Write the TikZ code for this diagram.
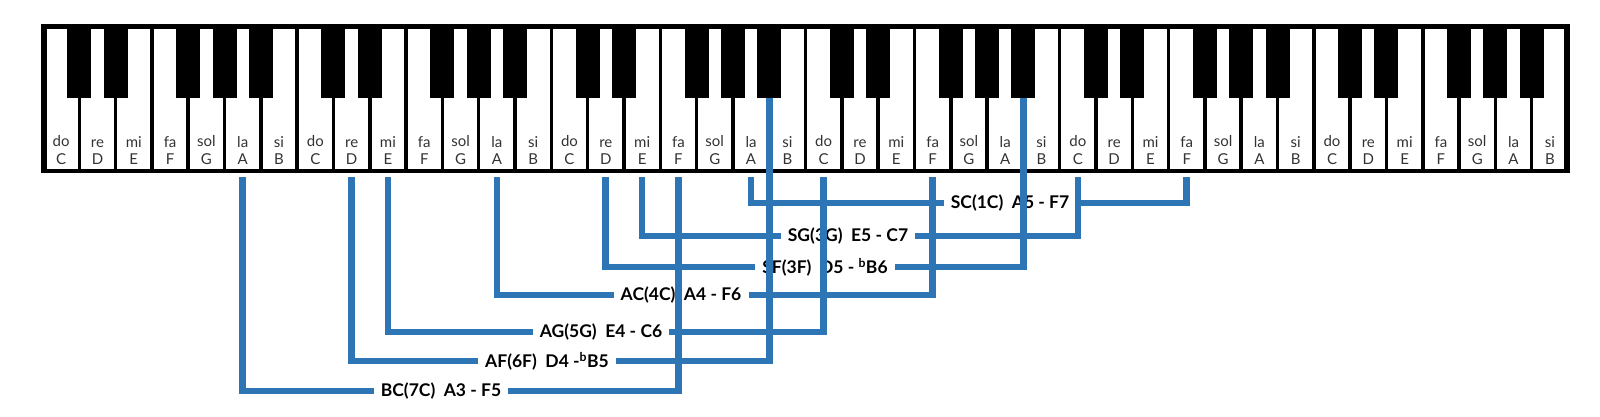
\documentclass[tikz,border=0pt]{standalone}
\usepackage{fontspec}
\setmainfont{Lato}
\usetikzlibrary{positioning}
\definecolor{linkblue}{RGB}{46,117,182}
\tikzset{
  whitekey/.style={rectangle, draw, fill=white, line width=3.5pt, minimum width=36.31pt, minimum height=145pt, inner sep=0pt},
  blackkey/.style={rectangle, fill=black, minimum width=24pt, minimum height=74pt, inner sep=0pt, anchor=north},
  keylabel/.style={align=center, inner sep=0pt, text=black!80, font=\fontsize{15}{17.5}\selectfont},
  rowlabel/.style={inner xsep=7pt, inner ysep=0pt, font=\bfseries\fontsize{17.5}{20}\selectfont},
  conn/.style={draw=linkblue, line width=6.7pt},
  fromkey/.style={shorten <=4pt},
  tokey/.style={shorten >=4pt}
}
\begin{document}
\begin{tikzpicture}[x=1pt, y=-1pt]
  \useasboundingbox (0,0) rectangle (1600,416);
  % white keys, C3 to B8
  \foreach \o in {3,...,8}{
    \foreach \l/\s [count=\k from 0] in {C/do,D/re,E/mi,F/fa,G/sol,A/la,B/si}{
      \pgfmathsetmacro{\kx}{43+36.31*((\o-3)*7+\k+0.5)}
      \node[whitekey] (\l\o) at (\kx,98.5) {};
      \node[keylabel, above=8pt of \l\o.south] {\s\\\l};
    }
  }
  \draw[line width=4.5pt] (45,26.5) rectangle (1566,171);
  % black keys
  \foreach \o in {3,...,8}{
    \foreach \k/\b in {1/Db,2/Eb,4/Gb,5/Ab,6/Bb}{
      \pgfmathsetmacro{\kx}{43+36.31*((\o-3)*7+\k)}
      \node[blackkey] (\b\o) at (\kx,24) {};
    }
  }

  % interval labels
  \node[rowlabel] (sc) at (1010,203) {SC(1C)\ \ A5 - F7};
  \node[rowlabel] (sg) at (848,236) {SG(3G)\ \ E5 - C7};
  \node[rowlabel] (sf) at (825,267) {SF(3F)\ \ D5 - \textsuperscript{b}B6};
  \node[rowlabel] (ac) at (681,295) {AC(4C)\ \ A4 - F6};
  \node[rowlabel] (ag) at (601,332) {AG(5G)\ \ E4 - C6};
  \node[rowlabel] (af) at (547,361) {AF(6F)\ \ D4 -\textsuperscript{b}B5};
  \node[rowlabel] (bc) at (441,391) {BC(7C)\ \ A3 - F5};

  % connectors
  \draw[conn, fromkey] (A5.south) |- (sc.west);
  \draw[conn, tokey] (sc.east) -| (F7.south);
  \draw[conn, fromkey] (E5.south) |- (sg.west);
  \draw[conn, tokey] (sg.east) -| (C7.south);
  \draw[conn, fromkey] (D5.south) |- (sf.west);
  \draw[conn] (sf.east) -| (Bb6.south);
  \draw[conn, fromkey] (A4.south) |- (ac.west);
  \draw[conn, tokey] (ac.east) -| (F6.south);
  \draw[conn, fromkey] (E4.south) |- (ag.west);
  \draw[conn, tokey] (ag.east) -| (C6.south);
  \draw[conn, fromkey] (D4.south) |- (af.west);
  \draw[conn] (af.east) -| (Bb5.south);
  \draw[conn, fromkey] (A3.south) |- (bc.west);
  \draw[conn, tokey] (bc.east) -| (F5.south);
\end{tikzpicture}
\end{document}
